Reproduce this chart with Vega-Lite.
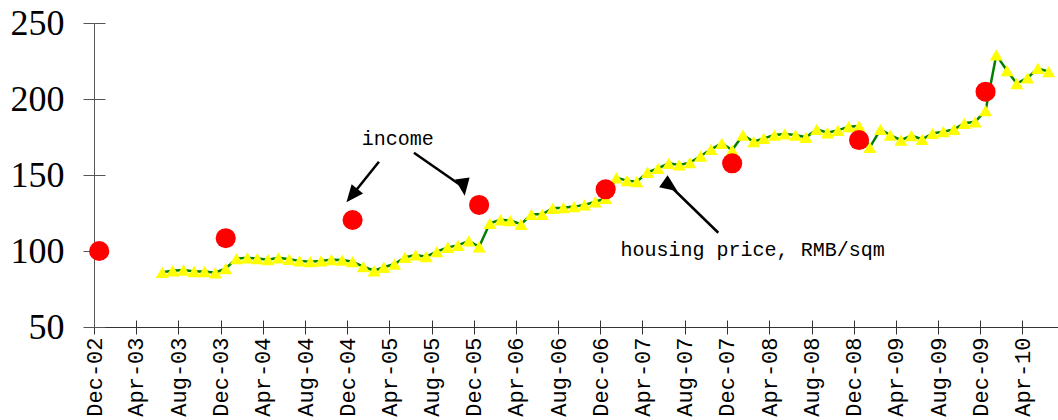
{
  "$schema": "https://vega.github.io/schema/vega-lite/v6.json",
  "width": 964,
  "height": 304,
  "autosize": {"type": "none"},
  "padding": {"left": 94, "top": 23, "right": 0, "bottom": 93},
  "background": "white",
  "config": {"view": {"stroke": null}, "axis": {"grid": false}},
  "datasets": {
    "housing": [
      {"date": "2003-06-16T00:00:00", "value": 86},
      {"date": "2003-07-16T00:00:00", "value": 87},
      {"date": "2003-08-16T00:00:00", "value": 87.5},
      {"date": "2003-09-16T00:00:00", "value": 86.5},
      {"date": "2003-10-16T00:00:00", "value": 86.5},
      {"date": "2003-11-16T00:00:00", "value": 85.7},
      {"date": "2003-12-16T00:00:00", "value": 88.5},
      {"date": "2004-01-16T00:00:00", "value": 95},
      {"date": "2004-02-16T00:00:00", "value": 95.5},
      {"date": "2004-03-16T00:00:00", "value": 95},
      {"date": "2004-04-16T00:00:00", "value": 94.3},
      {"date": "2004-05-16T00:00:00", "value": 95.5},
      {"date": "2004-06-16T00:00:00", "value": 94.5},
      {"date": "2004-07-16T00:00:00", "value": 93.5},
      {"date": "2004-08-16T00:00:00", "value": 93},
      {"date": "2004-09-16T00:00:00", "value": 93.5},
      {"date": "2004-10-16T00:00:00", "value": 94.3},
      {"date": "2004-11-16T00:00:00", "value": 94},
      {"date": "2004-12-16T00:00:00", "value": 93},
      {"date": "2005-01-16T00:00:00", "value": 89.7},
      {"date": "2005-02-16T00:00:00", "value": 87},
      {"date": "2005-03-16T00:00:00", "value": 89.3},
      {"date": "2005-04-16T00:00:00", "value": 91.4},
      {"date": "2005-05-16T00:00:00", "value": 95.8},
      {"date": "2005-06-16T00:00:00", "value": 97.4},
      {"date": "2005-07-16T00:00:00", "value": 96.3},
      {"date": "2005-08-16T00:00:00", "value": 99.6},
      {"date": "2005-09-16T00:00:00", "value": 102.4},
      {"date": "2005-10-16T00:00:00", "value": 103.7},
      {"date": "2005-11-16T00:00:00", "value": 106.6},
      {"date": "2005-12-16T00:00:00", "value": 102.8},
      {"date": "2006-01-16T00:00:00", "value": 118.2},
      {"date": "2006-02-16T00:00:00", "value": 120.5},
      {"date": "2006-03-16T00:00:00", "value": 120},
      {"date": "2006-04-16T00:00:00", "value": 117.6},
      {"date": "2006-05-16T00:00:00", "value": 124.1},
      {"date": "2006-06-16T00:00:00", "value": 124.1},
      {"date": "2006-07-16T00:00:00", "value": 128.1},
      {"date": "2006-08-16T00:00:00", "value": 128.5},
      {"date": "2006-09-16T00:00:00", "value": 129.2},
      {"date": "2006-10-16T00:00:00", "value": 130.3},
      {"date": "2006-11-16T00:00:00", "value": 132.4},
      {"date": "2006-12-16T00:00:00", "value": 134.6},
      {"date": "2007-01-16T00:00:00", "value": 148.2},
      {"date": "2007-02-16T00:00:00", "value": 146.3},
      {"date": "2007-03-16T00:00:00", "value": 145.6},
      {"date": "2007-04-16T00:00:00", "value": 151.8},
      {"date": "2007-05-16T00:00:00", "value": 154.4},
      {"date": "2007-06-16T00:00:00", "value": 157.7},
      {"date": "2007-07-16T00:00:00", "value": 156.6},
      {"date": "2007-08-16T00:00:00", "value": 158.1},
      {"date": "2007-09-16T00:00:00", "value": 162.5},
      {"date": "2007-10-16T00:00:00", "value": 166.9},
      {"date": "2007-11-16T00:00:00", "value": 170.8},
      {"date": "2007-12-16T00:00:00", "value": 166.4},
      {"date": "2008-01-16T00:00:00", "value": 176.3},
      {"date": "2008-02-16T00:00:00", "value": 171.9},
      {"date": "2008-03-16T00:00:00", "value": 174.1},
      {"date": "2008-04-16T00:00:00", "value": 176.3},
      {"date": "2008-05-16T00:00:00", "value": 177},
      {"date": "2008-06-16T00:00:00", "value": 176.3},
      {"date": "2008-07-16T00:00:00", "value": 174.8},
      {"date": "2008-08-16T00:00:00", "value": 180},
      {"date": "2008-09-16T00:00:00", "value": 177.8},
      {"date": "2008-10-16T00:00:00", "value": 179.4},
      {"date": "2008-11-16T00:00:00", "value": 181.8},
      {"date": "2008-12-16T00:00:00", "value": 182.2},
      {"date": "2009-01-16T00:00:00", "value": 168.2},
      {"date": "2009-02-16T00:00:00", "value": 180},
      {"date": "2009-03-16T00:00:00", "value": 176.3},
      {"date": "2009-04-16T00:00:00", "value": 173},
      {"date": "2009-05-16T00:00:00", "value": 175.9},
      {"date": "2009-06-16T00:00:00", "value": 173.5},
      {"date": "2009-07-16T00:00:00", "value": 177.4},
      {"date": "2009-08-16T00:00:00", "value": 178.5},
      {"date": "2009-09-16T00:00:00", "value": 180},
      {"date": "2009-10-16T00:00:00", "value": 184},
      {"date": "2009-11-16T00:00:00", "value": 185},
      {"date": "2009-12-16T00:00:00", "value": 192.3},
      {"date": "2010-01-16T00:00:00", "value": 229},
      {"date": "2010-02-16T00:00:00", "value": 218.6},
      {"date": "2010-03-16T00:00:00", "value": 210.2},
      {"date": "2010-04-16T00:00:00", "value": 213.9},
      {"date": "2010-05-16T00:00:00", "value": 220.2},
      {"date": "2010-06-16T00:00:00", "value": 218}
    ],
    "income": [
      {"date": "2002-12-16T00:00:00", "value": 100},
      {"date": "2003-12-16T00:00:00", "value": 108.4},
      {"date": "2004-12-16T00:00:00", "value": 120.4},
      {"date": "2005-12-16T00:00:00", "value": 130.3},
      {"date": "2006-12-16T00:00:00", "value": 140.6},
      {"date": "2007-12-16T00:00:00", "value": 157.7},
      {"date": "2008-12-16T00:00:00", "value": 173},
      {"date": "2009-12-16T00:00:00", "value": 204.8}
    ],
    "notes": [
      {"date": "2005-04-25T00:00:00", "value": 173.7, "label": "income"},
      {"date": "2008-02-13T00:00:00", "value": 100.7, "label": "housing price, RMB/sqm"}
    ],
    "arrows": [
      {"arrow": "a1", "date": "2005-03-02T00:00:00", "value": 158.75, "date2": "2004-12-14T00:00:00", "value2": 136.5},
      {"arrow": "a2", "date": "2005-06-11T00:00:00", "value": 164.7, "date2": "2005-11-01T00:00:00", "value2": 142.0},
      {"arrow": "a3", "date": "2007-11-06T00:00:00", "value": 112.0, "date2": "2007-06-21T00:00:00", "value2": 142.6}
    ]
  },
  "resolve": {"axis": {"x": "independent", "y": "independent"}},
  "layer": [
    {
      "data": {"name": "housing"},
      "mark": {"type": "line", "color": "#008000", "strokeWidth": 2.5},
      "encoding": {
        "x": {
          "field": "date", "type": "temporal",
          "scale": {"domain": [{"year": 2002, "month": 12, "date": 1}, {"year": 2010, "month": 7, "date": 13}]},
          "axis": {
            "title": null,
            "values": [
              {"year": 2002, "month": 12, "date": 1},
              {"year": 2003, "month": 4, "date": 1}, {"year": 2003, "month": 8, "date": 1}, {"year": 2003, "month": 12, "date": 1},
              {"year": 2004, "month": 4, "date": 1}, {"year": 2004, "month": 8, "date": 1}, {"year": 2004, "month": 12, "date": 1},
              {"year": 2005, "month": 4, "date": 1}, {"year": 2005, "month": 8, "date": 1}, {"year": 2005, "month": 12, "date": 1},
              {"year": 2006, "month": 4, "date": 1}, {"year": 2006, "month": 8, "date": 1}, {"year": 2006, "month": 12, "date": 1},
              {"year": 2007, "month": 4, "date": 1}, {"year": 2007, "month": 8, "date": 1}, {"year": 2007, "month": 12, "date": 1},
              {"year": 2008, "month": 4, "date": 1}, {"year": 2008, "month": 8, "date": 1}, {"year": 2008, "month": 12, "date": 1},
              {"year": 2009, "month": 4, "date": 1}, {"year": 2009, "month": 8, "date": 1}, {"year": 2009, "month": 12, "date": 1},
              {"year": 2010, "month": 4, "date": 1}
            ],
            "format": "%b-%y",
            "labelAngle": -90,
            "labelFont": "Liberation Mono",
            "labelFontSize": 22,
            "labelColor": "black",
            "labelPadding": 3,
            "labelOverlap": false,
            "labelFlush": false,
            "tickSize": 7,
            "tickColor": "#333333",
            "tickWidth": 1,
            "domainColor": "#333333",
            "domainWidth": 1
          }
        },
        "y": {
          "field": "value", "type": "quantitative",
          "scale": {"domain": [50, 250], "nice": false, "zero": false},
          "axis": {
            "title": null,
            "values": [50, 100, 150, 200, 250],
            "labelFont": "Liberation Serif",
            "labelFontSize": 36,
            "labelColor": "black",
            "labelPadding": 19,
            "labelFlush": false,
            "labelOverlap": false,
            "tickSize": 11,
            "tickColor": "#555555",
            "domainColor": "#555555"
          }
        }
      }
    },
    {
      "data": {"name": "housing"},
      "mark": {"type": "point", "shape": "triangle-up", "filled": true, "color": "#FFFF00", "opacity": 1, "size": 170},
      "encoding": {
        "x": {
          "field": "date", "type": "temporal",
          "axis": {
            "orient": "bottom", "title": null, "labels": false, "domain": false,
            "tickSize": -7, "tickColor": "#333333",
            "values": [
              {"year": 2002, "month": 12, "date": 1},
              {"year": 2003, "month": 4, "date": 1}, {"year": 2003, "month": 8, "date": 1}, {"year": 2003, "month": 12, "date": 1},
              {"year": 2004, "month": 4, "date": 1}, {"year": 2004, "month": 8, "date": 1}, {"year": 2004, "month": 12, "date": 1},
              {"year": 2005, "month": 4, "date": 1}, {"year": 2005, "month": 8, "date": 1}, {"year": 2005, "month": 12, "date": 1},
              {"year": 2006, "month": 4, "date": 1}, {"year": 2006, "month": 8, "date": 1}, {"year": 2006, "month": 12, "date": 1},
              {"year": 2007, "month": 4, "date": 1}, {"year": 2007, "month": 8, "date": 1}, {"year": 2007, "month": 12, "date": 1},
              {"year": 2008, "month": 4, "date": 1}, {"year": 2008, "month": 8, "date": 1}, {"year": 2008, "month": 12, "date": 1},
              {"year": 2009, "month": 4, "date": 1}, {"year": 2009, "month": 8, "date": 1}, {"year": 2009, "month": 12, "date": 1},
              {"year": 2010, "month": 4, "date": 1}
            ]
          }
        },
        "y": {
          "field": "value", "type": "quantitative",
          "axis": {
            "orient": "left", "title": null, "labels": false, "domain": false,
            "tickSize": -11, "tickColor": "#555555",
            "values": [50, 100, 150, 200, 250]
          }
        }
      }
    },
    {
      "data": {"name": "income"},
      "mark": {"type": "circle", "color": "#FF0000", "opacity": 1, "size": 405},
      "encoding": {
        "x": {"field": "date", "type": "temporal", "axis": null},
        "y": {"field": "value", "type": "quantitative", "axis": null}
      }
    },
    {
      "data": {"name": "arrows"},
      "mark": {"type": "rule", "color": "black", "strokeWidth": 2.5},
      "encoding": {
        "x": {"field": "date", "type": "temporal", "axis": null},
        "y": {"field": "value", "type": "quantitative", "axis": null},
        "x2": {"field": "date2"},
        "y2": {"field": "value2"}
      }
    },
    {
      "data": {"name": "arrows"},
      "mark": {"type": "point", "shape": "M0,-1L0.85,1L-0.85,1Z", "filled": true, "color": "black", "opacity": 1, "size": 300},
      "encoding": {
        "x": {"field": "date2", "type": "temporal", "axis": null},
        "y": {"field": "value2", "type": "quantitative", "axis": null},
        "angle": {"field": "arrow", "type": "nominal", "scale": {"domain": ["a1", "a2", "a3"], "range": [219, 125, 314]}, "legend": null}
      }
    },
    {
      "data": {"name": "notes"},
      "mark": {"type": "text", "font": "Liberation Mono", "fontSize": 20, "color": "black", "align": "center", "baseline": "middle"},
      "encoding": {
        "x": {"field": "date", "type": "temporal", "axis": null},
        "y": {"field": "value", "type": "quantitative", "axis": null},
        "text": {"field": "label"}
      }
    }
  ]
}
